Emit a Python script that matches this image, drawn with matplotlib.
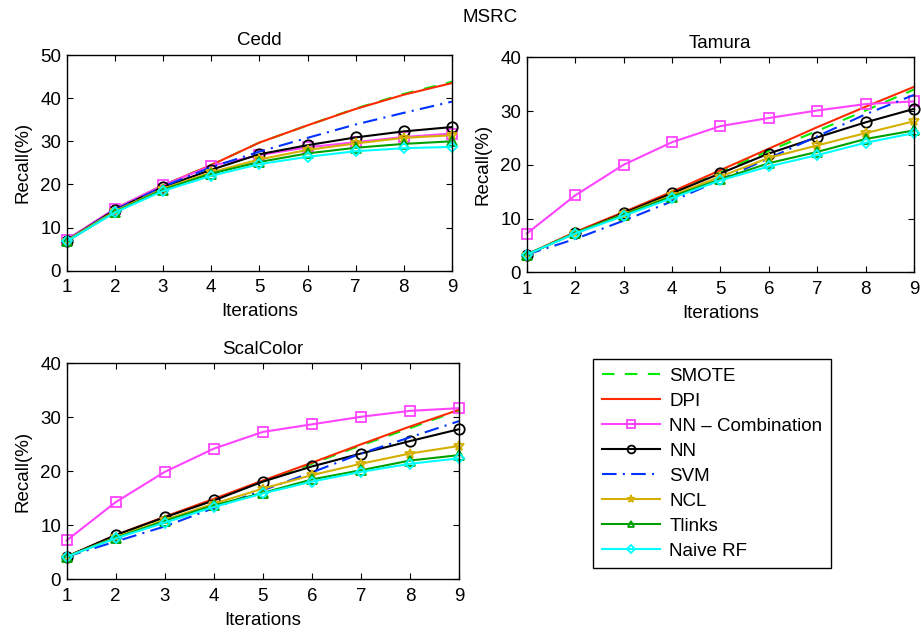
import matplotlib
matplotlib.use("Agg")
import matplotlib.pyplot as plt
import numpy as np

plt.rcParams["font.family"] = ["Liberation Sans", "DejaVu Sans"]
plt.rcParams["font.size"] = 13.5

iterations = [1, 2, 3, 4, 5, 6, 7, 8, 9]

# Cedd panel
cedd_smote = [7.0, 14.3, 19.8, 24.5, 29.7, 33.7, 37.6, 41.0, 43.8]
cedd_dpi = [7.0, 14.3, 19.8, 24.5, 29.7, 33.7, 37.5, 40.8, 43.5]
cedd_nncomb = [7.2, 14.4, 19.8, 24.3, 26.8, 28.6, 29.8, 31.0, 31.8]
cedd_nn = [7.0, 14.1, 19.4, 23.4, 27.0, 29.1, 30.9, 32.3, 33.3]
cedd_svm = [7.0, 14.0, 19.5, 24.0, 27.6, 30.8, 33.9, 36.6, 39.2]
cedd_ncl = [7.0, 13.8, 19.0, 22.8, 25.8, 28.0, 29.5, 30.8, 31.4]
cedd_tlinks = [6.8, 13.6, 18.8, 22.5, 25.2, 27.2, 28.5, 29.4, 30.0]
cedd_rf = [6.8, 13.5, 18.5, 22.0, 24.7, 26.4, 27.7, 28.4, 28.7]

# Tamura panel
tam_smote = [3.3, 7.4, 11.0, 14.7, 18.6, 22.6, 26.3, 30.1, 34.0]
tam_dpi = [3.3, 7.5, 11.2, 15.0, 19.0, 23.0, 27.0, 30.8, 34.5]
tam_nncomb = [7.2, 14.3, 20.0, 24.2, 27.2, 28.7, 30.1, 31.3, 31.8]
tam_nn = [3.3, 7.3, 11.0, 14.7, 18.4, 22.1, 25.1, 27.9, 30.4]
tam_svm = [3.3, 6.2, 9.6, 13.2, 17.2, 21.2, 25.3, 29.4, 33.0]
tam_ncl = [3.3, 7.3, 10.8, 14.3, 17.8, 21.3, 23.6, 25.9, 28.1]
tam_tlinks = [3.3, 7.3, 10.7, 14.1, 17.3, 20.3, 22.4, 24.8, 26.4]
tam_rf = [3.3, 7.2, 10.5, 13.8, 17.1, 19.7, 21.8, 24.1, 25.9]

# ScalColor panel
scal_smote = [4.2, 8.1, 11.5, 14.8, 18.1, 21.4, 24.8, 28.0, 31.3]
scal_dpi = [4.2, 8.2, 11.6, 14.9, 18.3, 21.6, 25.0, 28.3, 31.4]
scal_nncomb = [7.2, 14.3, 19.9, 24.2, 27.3, 28.7, 30.1, 31.2, 31.7]
scal_nn = [4.2, 8.2, 11.5, 14.6, 18.1, 20.9, 23.3, 25.6, 27.8]
scal_svm = [4.2, 7.0, 9.8, 13.2, 16.5, 19.8, 23.3, 26.3, 29.3]
scal_ncl = [4.2, 7.8, 11.0, 14.0, 16.8, 19.3, 21.4, 23.3, 24.7]
scal_tlinks = [4.2, 7.7, 10.8, 13.7, 16.0, 18.5, 20.2, 22.0, 23.0]
scal_rf = [4.2, 7.6, 10.5, 13.4, 15.9, 18.1, 19.9, 21.4, 22.4]

labels = ["SMOTE", "DPI", "NN – Combination", "NN", "SVM", "NCL", "Tlinks", "Naive RF"]

# (color, linestyle, marker, markersize)
STYLES = [
    ("#00ee00", (0, (6, 5)), None, 0),
    ("#ff2a00", "-", None, 0),
    ("#ff44ff", "-", "s", 7.5),
    ("black", "-", "o", 7.5),
    ("#0033ff", (0, (7, 3, 1, 3)), None, 0),
    ("#d4b000", "-", "*", 7.5),
    ("#00a000", "-", "^", 6.5),
    ("cyan", "-", "D", 5.5),
]

PANELS = [
    ("Cedd", [0.0724, 0.5723, 0.4184, 0.3408], 50,
     [cedd_smote, cedd_dpi, cedd_nncomb, cedd_nn, cedd_svm, cedd_ncl, cedd_tlinks, cedd_rf]),
    ("Tamura", [0.5719, 0.5698, 0.4205, 0.3397], 40,
     [tam_smote, tam_dpi, tam_nncomb, tam_nn, tam_svm, tam_ncl, tam_tlinks, tam_rf]),
    ("ScalColor", [0.0724, 0.0848, 0.4260, 0.3412], 40,
     [scal_smote, scal_dpi, scal_nncomb, scal_nn, scal_svm, scal_ncl, scal_tlinks, scal_rf]),
]

fig = plt.figure(figsize=(9.21, 6.33), dpi=100)
handles = []
for title, rect, ymax, series in PANELS:
    ax = fig.add_axes(rect)
    hs = []
    for vals, lab, (c, ls, mk, ms) in zip(series, labels, STYLES):
        h, = ax.plot(iterations, vals, color=c, linestyle=ls, lw=1.5,
                     marker=mk, markersize=ms, markerfacecolor="none",
                     markeredgecolor=c, markeredgewidth=1.3, label=lab,
                     clip_on=False)
        hs.append(h)
    handles = hs
    ax.set_xlim(1, 9)
    ax.set_ylim(0, ymax)
    ax.set_xticks(iterations)
    ax.set_yticks(np.arange(0, ymax + 1, 10))
    ax.tick_params(axis="x", direction="in", top=True, length=4, pad=6)
    ax.tick_params(axis="y", direction="in", right=True, length=4, pad=4)
    ax.set_title(title, fontsize=13.5, pad=7)
    ax.set_xlabel("Iterations", fontsize=13.5, labelpad=5)
    ax.set_ylabel("Recall(%)", fontsize=13.5, labelpad=6)
    for sp in ax.spines.values():
        sp.set_linewidth(1.0)

fig.text(0.532, 0.972, "MSRC", ha="center", va="center", fontsize=13.5)

leg = fig.legend(handles, labels, loc="upper left",
                 bbox_to_anchor=(0.6442, 0.4324), bbox_transform=fig.transFigure,
                 fontsize=13.5, numpoints=1, markerscale=0.75, handlelength=3.1,
                 handletextpad=0.5, labelspacing=0.42, borderpad=0.45,
                 borderaxespad=0, fancybox=False, framealpha=1)
leg.get_frame().set_edgecolor("black")
leg.get_frame().set_linewidth(1.0)

fig.savefig("out.png", dpi=100)
